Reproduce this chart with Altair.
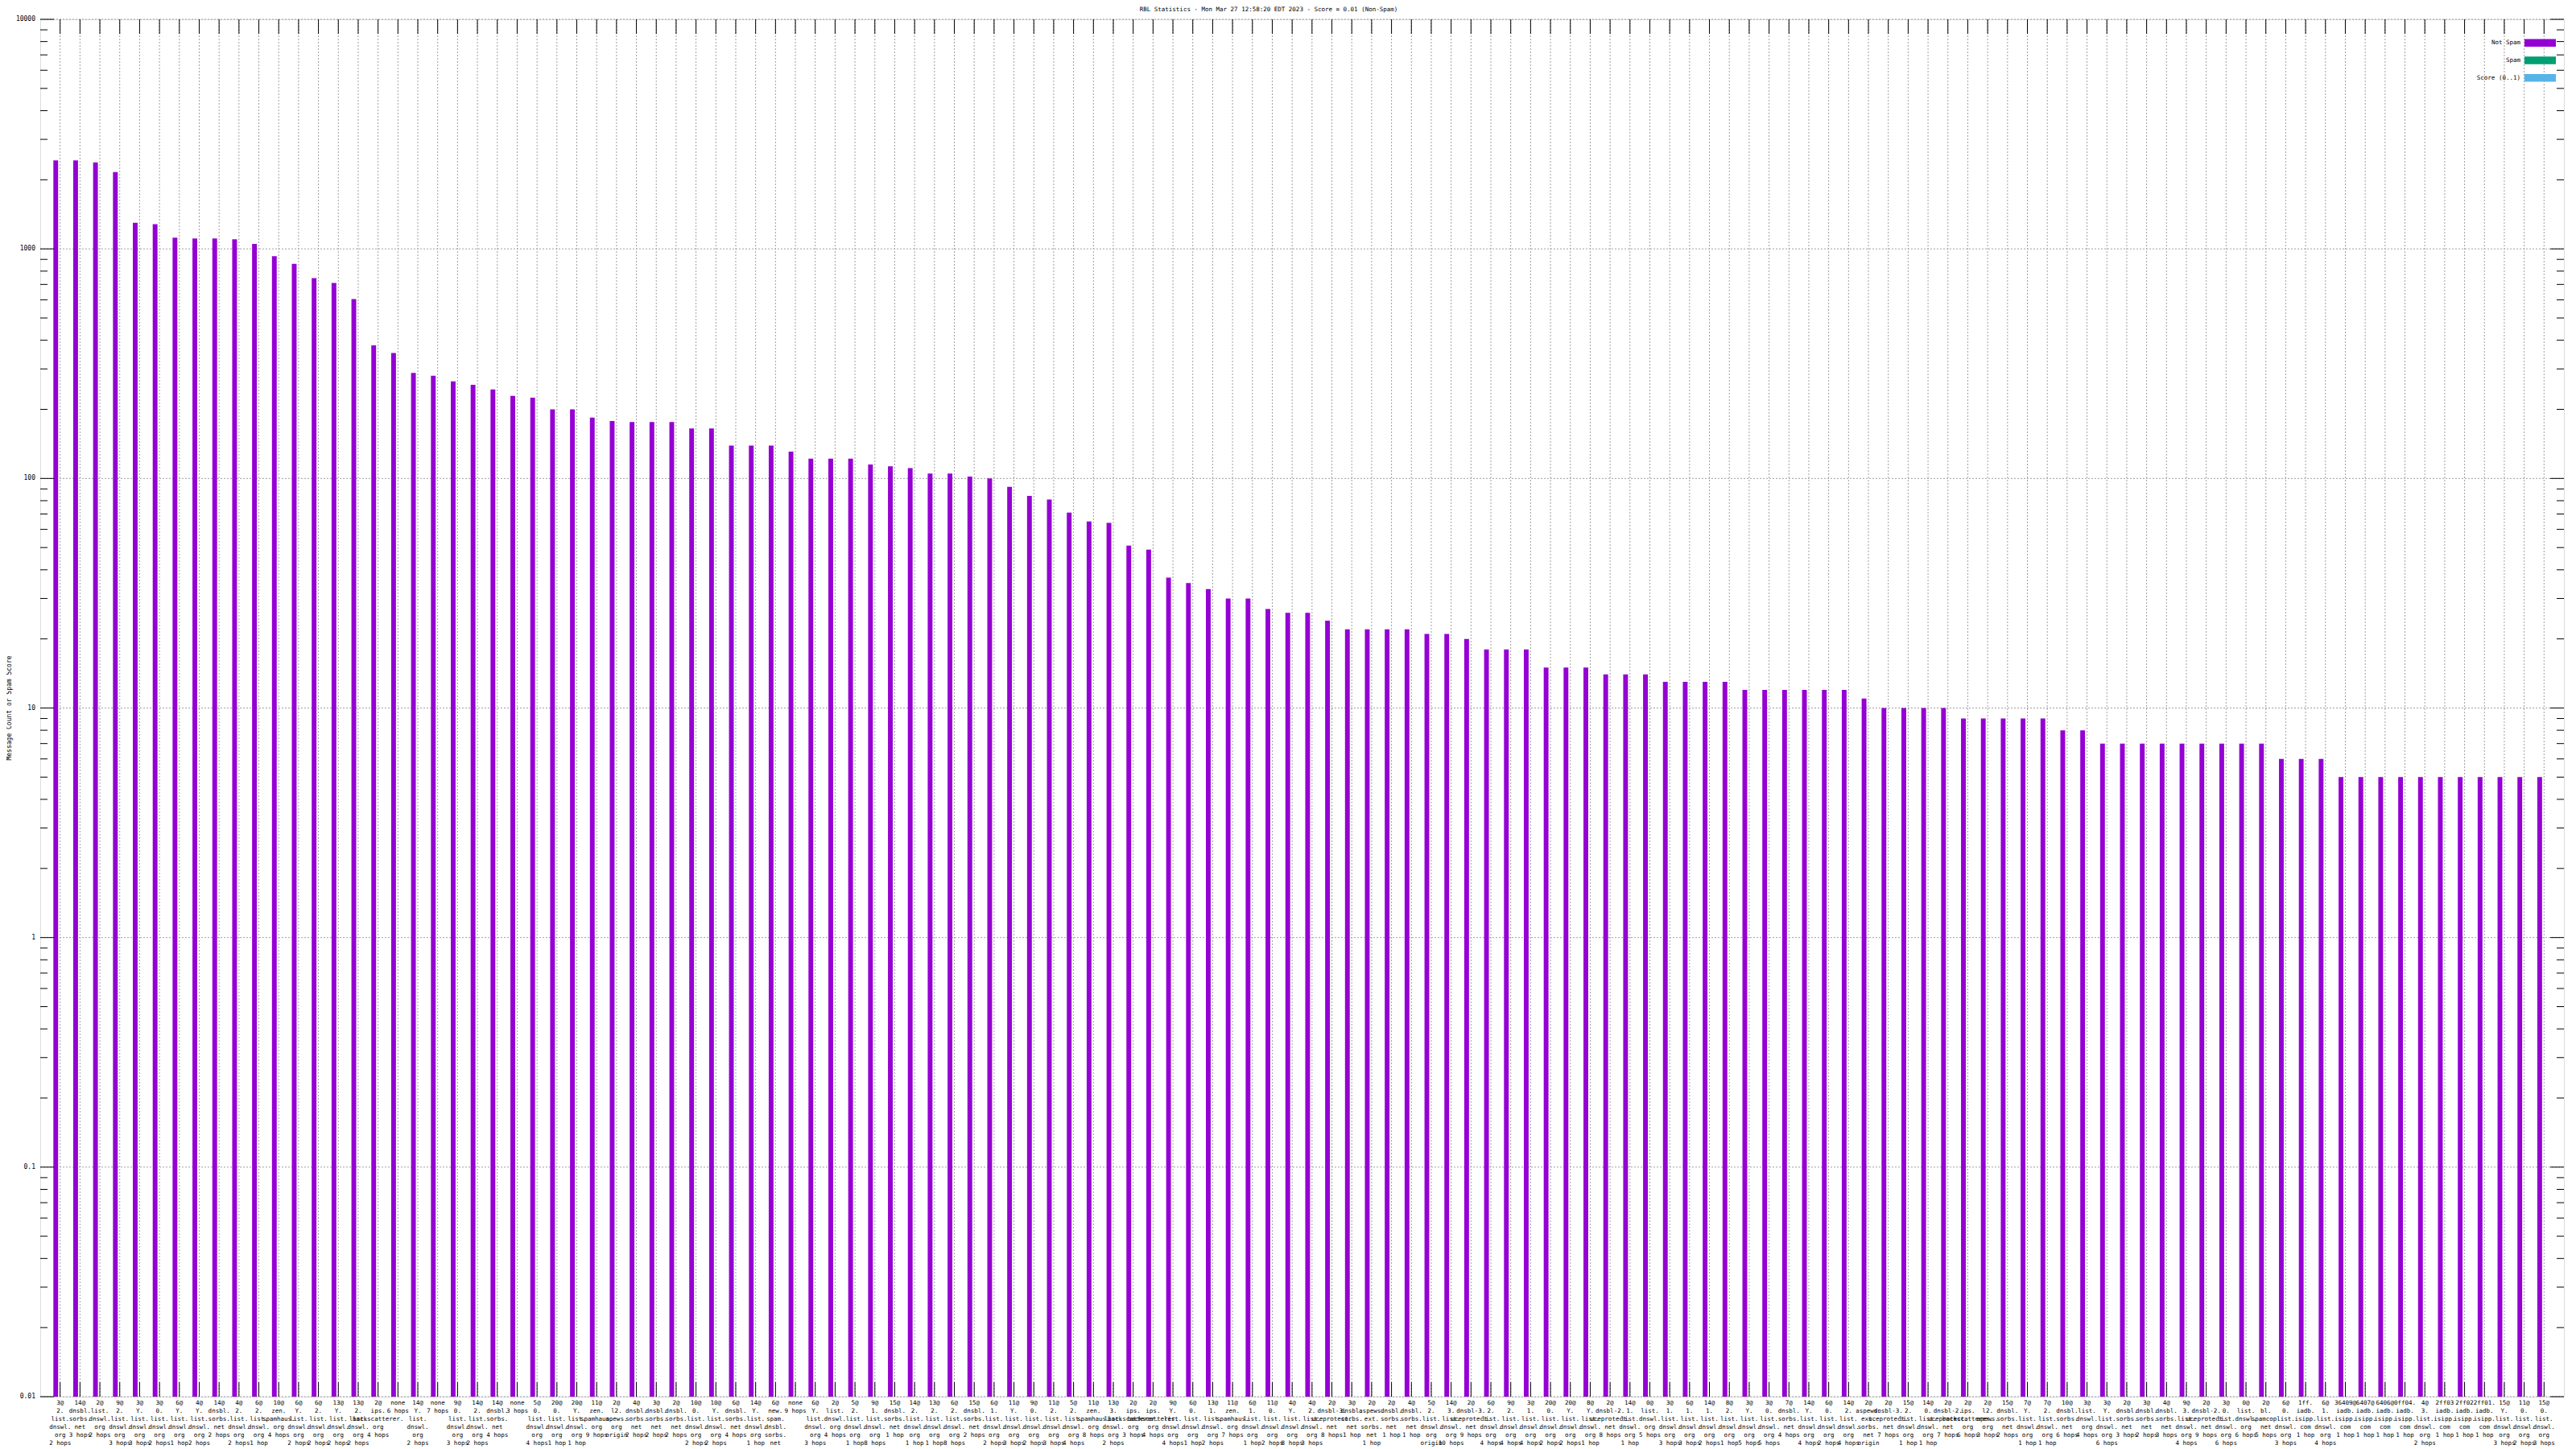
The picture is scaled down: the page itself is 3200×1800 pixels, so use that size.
import altair as alt
import pandas as pd

TITLE = "RBL Statistics - Mon Mar 27 12:58:20 EDT 2023 - Score = 0.01 (Non-Spam)"
Y_TITLE = "Message Count or Spam Score"

LABELS = [
    "3@|2.|list.|dnswl.|org|2 hops", "14@|dnsbl.|sorbs.|net|3 hops", "2@|list.|dnswl.|org|2 hops",
    "9@|2.|list.|dnswl.|org|3 hops", "3@|Y.|list.|dnswl.|org|3 hops", "3@|0.|list.|dnswl.|org|2 hops",
    "6@|Y.|list.|dnswl.|org|1 hop", "4@|Y.|list.|dnswl.|org|2 hops", "14@|dnsbl.|sorbs.|net|2 hops",
    "4@|2.|list.|dnswl.|org|2 hops", "6@|2.|list.|dnswl.|org|1 hop", "10@|zen.|spamhaus.|org|4 hops",
    "6@|Y.|list.|dnswl.|org|2 hops", "6@|2.|list.|dnswl.|org|2 hops", "13@|Y.|list.|dnswl.|org|2 hops",
    "13@|2.|list.|dnswl.|org|2 hops", "2@|ips.|backscatterer.|org|4 hops", "none|6 hops",
    "14@|Y.|list.|dnswl.|org|2 hops", "none|7 hops", "9@|0.|list.|dnswl.|org|3 hops",
    "14@|2.|list.|dnswl.|org|2 hops", "14@|dnsbl.|sorbs.|net|4 hops", "none|3 hops",
    "5@|0.|list.|dnswl.|org|4 hops", "20@|0.|list.|dnswl.|org|1 hop", "20@|Y.|list.|dnswl.|org|1 hop",
    "11@|zen.|spamhaus.|org|9 hops", "2@|l2.|apews.|org|origin", "4@|dnsbl.|sorbs.|net|2 hops",
    "3@|dnsbl.|sorbs.|net|2 hops", "2@|dnsbl.|sorbs.|net|2 hops", "10@|0.|list.|dnswl.|org|2 hops",
    "10@|Y.|list.|dnswl.|org|2 hops", "6@|dnsbl.|sorbs.|net|4 hops", "14@|Y.|list.|dnswl.|org|1 hop",
    "6@|new.|spam.|dnsbl.|sorbs.|net|4 hops", "none|9 hops", "6@|Y.|list.|dnswl.|org|3 hops",
    "2@|list.|dnswl.|org|4 hops", "5@|2.|list.|dnswl.|org|1 hop", "9@|1.|list.|dnswl.|org|8 hops",
    "15@|dnsbl.|sorbs.|net|1 hop", "14@|2.|list.|dnswl.|org|1 hop", "13@|2.|list.|dnswl.|org|1 hop",
    "6@|2.|list.|dnswl.|org|8 hops", "15@|dnsbl.|sorbs.|net|2 hops", "6@|1.|list.|dnswl.|org|2 hops",
    "11@|Y.|list.|dnswl.|org|3 hops", "9@|0.|list.|dnswl.|org|2 hops", "11@|2.|list.|dnswl.|org|3 hops",
    "5@|2.|list.|dnswl.|org|4 hops", "11@|zen.|spamhaus.|org|8 hops", "13@|3.|list.|dnswl.|org|2 hops",
    "2@|ips.|backscatterer.|org|3 hops", "2@|ips.|backscatterer.|org|4 hops", "9@|Y.|list.|dnswl.|org|4 hops",
    "6@|0.|list.|dnswl.|org|1 hop", "13@|1.|list.|dnswl.|org|2 hops", "11@|zen.|spamhaus.|org|7 hops",
    "6@|1.|list.|dnswl.|org|1 hop", "11@|0.|list.|dnswl.|org|2 hops", "4@|Y.|list.|dnswl.|org|8 hops",
    "4@|2.|list.|dnswl.|org|3 hops", "2@|dnsbl-3.|uceprotect.|net|8 hops", "3@|dnsbl.|sorbs.|net|1 hop",
    "2@|aspews.|ext.|sorbs.|net|1 hop", "2@|dnsbl.|sorbs.|net|1 hop", "4@|dnsbl.|sorbs.|net|1 hop",
    "5@|2.|list.|dnswl.|org|origin", "14@|3.|list.|dnswl.|org|10 hops", "2@|dnsbl-3.|uceprotect.|net|9 hops",
    "6@|2.|list.|dnswl.|org|4 hops", "9@|2.|list.|dnswl.|org|4 hops", "3@|1.|list.|dnswl.|org|4 hops",
    "20@|0.|list.|dnswl.|org|2 hops", "20@|Y.|list.|dnswl.|org|2 hops", "8@|Y.|list.|dnswl.|org|1 hop",
    "2@|dnsbl-2.|uceprotect.|net|8 hops", "14@|1.|list.|dnswl.|org|1 hop", "0@|list.|dnswl.|org|5 hops",
    "3@|1.|list.|dnswl.|org|3 hops", "6@|1.|list.|dnswl.|org|3 hops", "14@|1.|list.|dnswl.|org|2 hops",
    "8@|2.|list.|dnswl.|org|1 hop", "3@|Y.|list.|dnswl.|org|5 hops", "3@|0.|list.|dnswl.|org|5 hops",
    "7@|dnsbl.|sorbs.|net|4 hops", "14@|Y.|list.|dnswl.|org|4 hops", "6@|0.|list.|dnswl.|org|2 hops",
    "14@|2.|list.|dnswl.|org|4 hops", "2@|aspews.|ext.|sorbs.|net|origin", "2@|dnsbl-3.|uceprotect.|net|7 hops",
    "15@|2.|list.|dnswl.|org|1 hop", "14@|0.|list.|dnswl.|org|1 hop", "2@|dnsbl-2.|uceprotect.|net|7 hops",
    "2@|ips.|backscatterer.|org|6 hops", "2@|l2.|apews.|org|3 hops", "15@|dnsbl.|sorbs.|net|2 hops",
    "7@|Y.|list.|dnswl.|org|1 hop", "7@|2.|list.|dnswl.|org|1 hop", "10@|dnsbl.|sorbs.|net|6 hops",
    "3@|list.|dnswl.|org|4 hops", "3@|Y.|list.|dnswl.|org|6 hops", "2@|dnsbl.|sorbs.|net|3 hops",
    "3@|dnsbl.|sorbs.|net|2 hops", "4@|dnsbl.|sorbs.|net|3 hops", "9@|3.|list.|dnswl.|org|4 hops",
    "2@|dnsbl-2.|uceprotect.|net|9 hops", "3@|0.|list.|dnswl.|org|6 hops", "0@|list.|dnswl.|org|6 hops",
    "2@|bl.|spamcop.|net|5 hops", "6@|0.|list.|dnswl.|org|3 hops", "1ff.|iadb.|isipp.|com|1 hop",
    "6@|1.|list.|dnswl.|org|4 hops", "36409@|iadb.|isipp.|com|1 hop", "6407@|iadb.|isipp.|com|1 hop",
    "6406@|iadb.|isipp.|com|1 hop", "0ff04.|iadb.|isipp.|com|1 hop", "4@|3.|list.|dnswl.|org|2 hops",
    "2ff03|iadb.|isipp.|com|1 hop", "2ff02|iadb.|isipp.|com|1 hop", "2ff01.|iadb.|isipp.|com|1 hop",
    "15@|Y.|list.|dnswl.|org|3 hops", "11@|0.|list.|dnswl.|org|2 hops", "15@|0.|list.|dnswl.|org|3 hops",
]

NOT_SPAM = [
    2430, 2430, 2380, 2160, 1300, 1280, 1120, 1110, 1110, 1100,
    1050, 930, 860, 745, 710, 605, 380, 352, 288, 280,
    265, 256, 244, 229, 225, 200, 200, 184, 178, 176,
    176, 176, 165, 165, 139, 139, 139, 131, 122, 122,
    122, 115, 113, 111, 105, 105, 102, 100, 92, 84,
    81, 71, 65, 64, 51, 49, 37, 35, 33, 30,
    30, 27, 26, 26, 24, 22, 22, 22, 22, 21,
    21, 20, 18, 18, 18, 15, 15, 15, 14, 14,
    14, 13, 13, 13, 13, 12, 12, 12, 12, 12,
    12, 11, 10, 10, 10, 10, 9, 9, 9, 9,
    9, 8, 8, 7, 7, 7, 7, 7, 7, 7,
    7, 7, 6, 6, 6, 5, 5, 5, 5, 5,
    5, 5, 5, 5, 5, 5,
]

SERIES = ["Not Spam", "Spam", "Score (0..1)"]
COLORS = ["#9400d3", "#009e73", "#56b4e9"]
Y_TICKS = [0.01, 0.1, 1, 10, 100, 1000, 10000]
Y_TICK_LABELS = ["0.01", "0.1", "1", "10", "100", "1000", "10000"]
Y_MINOR = [d * m for d in [0.01, 0.1, 1, 10, 100, 1000] for m in range(2, 10)]

W, H = 3135, 1711
FONT = "DejaVu Sans Mono"
GRID = "#a0a0a0"

df = pd.DataFrame({
    "i": list(range(len(LABELS))),
    "label": [s.replace("|", "\n") for s in LABELS],
    "count": NOT_SPAM,
})
df["b0"] = df["i"] - 0.22 - 0.12
df["b1"] = df["i"] - 0.22 + 0.12

xscale = alt.Scale(domain=[-1, 126], nice=False, zero=False)
yscale = alt.Scale(type="log", domain=[0.01, 10000], nice=False)

ymaj = pd.DataFrame({"v": Y_TICKS, "lab": Y_TICK_LABELS})
ymin = pd.DataFrame({"v": Y_MINOR})
xt = pd.DataFrame({"i": list(range(len(LABELS)))})

# grid
vgrid = alt.Chart(xt).mark_rule(color=GRID, strokeDash=[2, 2], strokeWidth=1).encode(
    x=alt.X("i:Q", scale=xscale, axis=None), y=alt.value(0), y2=alt.value(H))
hgrid = alt.Chart(ymaj).mark_rule(color=GRID, strokeDash=[2, 2], strokeWidth=1).encode(
    y=alt.Y("v:Q", scale=yscale, axis=None), x=alt.value(0), x2=alt.value(W))

bars = alt.Chart(df).mark_rect(color=COLORS[0]).encode(
    x=alt.X("b0:Q", scale=xscale, axis=None),
    x2="b1:Q",
    y=alt.Y("count:Q", scale=yscale, axis=None),
    y2=alt.value(H),
)

def yrule(data, x0, x1):
    return alt.Chart(data).mark_rule(color="black", strokeWidth=1).encode(
        y=alt.Y("v:Q", scale=yscale, axis=None), x=alt.value(x0), x2=alt.value(x1))

def xrule(y0, y1):
    return alt.Chart(xt).mark_rule(color="black", strokeWidth=1).encode(
        x=alt.X("i:Q", scale=xscale, axis=None), y=alt.value(y0), y2=alt.value(y1))

ticks = [
    yrule(ymaj, 0, 17), yrule(ymaj, W - 17, W),
    yrule(ymin, 0, 9), yrule(ymin, W - 9, W),
    xrule(H - 18, H), xrule(0, 18),
]

ylabels = alt.Chart(ymaj).mark_text(font=FONT, fontSize=8, align="right", baseline="middle",
                                    color="black").encode(
    y=alt.Y("v:Q", scale=yscale, axis=None), x=alt.value(-6), text="lab:N")

ytitle = alt.Chart(pd.DataFrame({"t": [Y_TITLE]})).mark_text(
    font=FONT, fontSize=8, align="center", baseline="middle", angle=270, color="black").encode(
    x=alt.value(-38), y=alt.value(H / 2), text="t:N")

xlabels = alt.Chart(df).mark_text(font=FONT, fontSize=7.5, lineBreak="\n", baseline="top",
                                  align="center", lineHeight=10, color="black").encode(
    x=alt.X("i:Q", scale=xscale, axis=None), y=alt.value(H + 4), text="label:N")

title = alt.Chart(pd.DataFrame({"t": [TITLE]})).mark_text(
    font=FONT, fontSize=7.5, align="center", baseline="middle", color="black").encode(
    x=alt.value(1526), y=alt.value(-12), text="t:N")

legend = []
for k, (name, col) in enumerate(zip(SERIES, COLORS)):
    yc = 29.3 + 21.7 * k
    ld = pd.DataFrame({"name": [name]})
    legend.append(alt.Chart(ld).mark_text(font=FONT, fontSize=7.5, align="right", baseline="middle",
                                          color="black").encode(
        x=alt.value(3081), y=alt.value(yc), text="name:N"))
    legend.append(alt.Chart(ld).mark_rect(color=col).encode(
        x=alt.value(3086), x2=alt.value(3125), y=alt.value(yc - 4.7), y2=alt.value(yc + 4.7)))

chart = alt.layer(vgrid, hgrid, bars, *ticks, ylabels, ytitle, xlabels, title, *legend).properties(
    width=W, height=H,
    autosize=alt.AutoSizeParams(type="none"),
    padding={"left": 42, "top": 16, "right": 6, "bottom": 62},
).configure_view(stroke="black", strokeWidth=1).configure(background="white")

chart.save("out.html", embed_options={"renderer": "svg", "actions": False})
